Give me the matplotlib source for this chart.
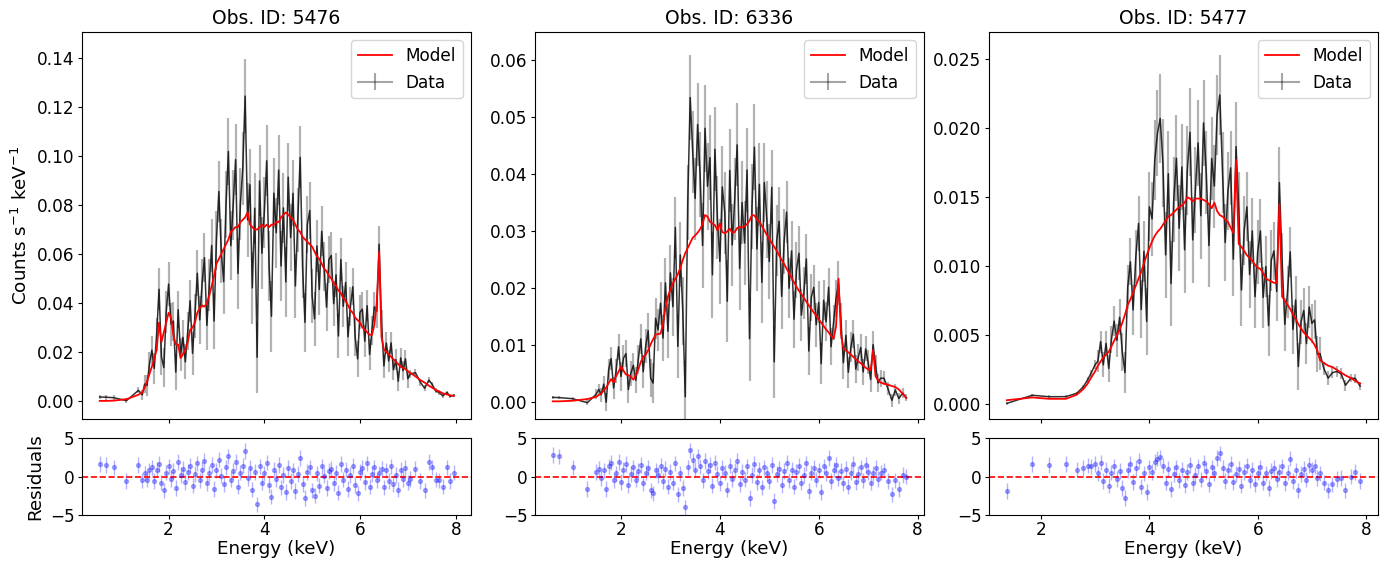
import numpy as np
import matplotlib
matplotlib.use("Agg")
import matplotlib.pyplot as plt

# ---------------- shared energy grid of the densely binned part (keV) ----------------
grid_keV = [
    1.50, 1.55, 1.60, 1.65, 1.70, 1.75, 1.80, 1.85, 1.90, 1.95,
    2.00, 2.05, 2.10, 2.15, 2.20, 2.25, 2.30, 2.35, 2.40, 2.45,
    2.50, 2.55, 2.60, 2.65, 2.70, 2.75, 2.80, 2.85, 2.90, 2.95,
    3.00, 3.05, 3.10, 3.15, 3.20, 3.25, 3.30, 3.35, 3.40, 3.45,
    3.50, 3.55, 3.60, 3.65, 3.70, 3.75, 3.80, 3.85, 3.90, 3.95,
    4.00, 4.05, 4.10, 4.15, 4.20, 4.25, 4.30, 4.35, 4.40, 4.45,
    4.50, 4.55, 4.60, 4.65, 4.70, 4.75, 4.80, 4.85, 4.90, 4.95,
    5.00, 5.05, 5.10, 5.15, 5.20, 5.25, 5.30, 5.35, 5.40, 5.45,
    5.50, 5.55, 5.60, 5.65, 5.70, 5.75, 5.80, 5.85, 5.90, 5.95,
    6.00, 6.05, 6.10, 6.15, 6.20, 6.25, 6.30, 6.35, 6.40, 6.45,
    6.50, 6.55, 6.60, 6.65, 6.70, 6.75, 6.80, 6.85, 6.90, 6.95,
    7.00, 7.05, 7.10, 7.15, 7.20, 7.25,
]

titles = ["Obs. ID: 5476", "Obs. ID: 6336", "Obs. ID: 5477"]

# ---------------- Obs. ID 5476 ----------------
e1_low = [0.56, 0.70, 0.85, 1.12, 1.37, 1.45]
m1_low = [0.0000, 0.0000, 0.0001, 0.0007, 0.0025, 0.0035]
s1_low = [0.0010, 0.0010, 0.0010, 0.0010, 0.0012, 0.0020]
r1_low = [1.6, 1.5, 1.2, -0.6, 1.5, -0.5]

m1_mid = [
    0.0055, 0.008, 0.011, 0.014, 0.017, 0.021, 0.032, 0.024, 0.028, 0.032,
    0.036, 0.034, 0.027, 0.023, 0.023, 0.0175, 0.019, 0.021, 0.024, 0.029,
    0.030, 0.032, 0.036, 0.038, 0.039, 0.0385, 0.040, 0.043, 0.047, 0.051,
    0.056, 0.058, 0.060, 0.062, 0.064, 0.066, 0.069, 0.070, 0.071, 0.071,
    0.073, 0.074, 0.075, 0.077, 0.072, 0.071, 0.070, 0.070, 0.071, 0.072,
    0.071, 0.072, 0.071, 0.072, 0.072, 0.073, 0.073, 0.075, 0.076, 0.077,
    0.076, 0.075, 0.074, 0.072, 0.070, 0.069, 0.067, 0.066, 0.065, 0.064,
    0.063, 0.061, 0.059, 0.058, 0.056, 0.054, 0.053, 0.051, 0.050, 0.048,
    0.047, 0.045, 0.044, 0.042, 0.041, 0.039, 0.037, 0.036, 0.034, 0.033,
    0.032, 0.030, 0.029, 0.028, 0.027, 0.027, 0.031, 0.040, 0.061, 0.026,
    0.021, 0.020, 0.019, 0.018, 0.017, 0.016, 0.015, 0.014, 0.0135, 0.013,
    0.012,
]
s1_mid = [
    0.0035, 0.0042, 0.005, 0.0056, 0.0062, 0.0068, 0.0085, 0.0075, 0.008, 0.0085,
    0.009, 0.0088, 0.008, 0.0075, 0.0075, 0.0068, 0.007, 0.0072, 0.0078, 0.0085,
    0.0088, 0.009, 0.0095, 0.0098, 0.010, 0.010, 0.0102, 0.0106, 0.011, 0.0115,
    0.012, 0.0125, 0.013, 0.0133, 0.0136, 0.0138, 0.014, 0.0142, 0.0145, 0.0146,
    0.0148, 0.015, 0.015, 0.0152, 0.0148, 0.0146, 0.0145, 0.0145, 0.0145, 0.0146,
    0.0145, 0.0145, 0.0144, 0.0144, 0.0143, 0.0143, 0.0142, 0.0142, 0.0142, 0.0142,
    0.014, 0.0138, 0.0135, 0.0132, 0.013, 0.0127, 0.0124, 0.0121, 0.0118, 0.0115,
    0.0112, 0.011, 0.0107, 0.0104, 0.0102, 0.010, 0.0098, 0.0096, 0.0094, 0.0092,
    0.009, 0.0088, 0.0086, 0.0084, 0.0082, 0.008, 0.0078, 0.0076, 0.0074, 0.0072,
    0.007, 0.0068, 0.0066, 0.0064, 0.0062, 0.006, 0.0062, 0.0068, 0.0075, 0.0055,
    0.0048, 0.0046, 0.0045, 0.0044, 0.0043, 0.0042, 0.0041, 0.004, 0.0039, 0.0038,
    0.0037,
]
r1_mid = [
    0.4, -0.4, 0.8, 1.2, -0.6, 0.9, 1.6, -0.8, -1.8, 0.5,
    1.3, -0.3, 0.7, -1.5, 1.9, 0.2, 1.0, -0.7, 0.6, 1.4,
    -1.2, 0.3, 1.7, -0.5, 0.9, 2.0, -0.9, 0.4, 1.5, -1.6,
    0.8, 2.2, 0.1, -1.0, 1.2, 2.6, -0.4, 0.7, 1.9, -1.3,
    0.5, 1.4, 3.3, -0.2, 1.1, -1.7, 0.6, -3.6, 1.3, -0.8,
    0.4, 1.8, -1.1, -2.6, 0.9, -0.3, 1.5, -1.4, 0.2, -2.0,
    1.1, -0.6, 0.8, -1.9, 0.3, 2.4, -1.0, -2.8, 0.6, 1.2,
    -1.8, -2.5, 0.4, -1.2, 1.3, 0.1, -1.5, 0.7, 1.0, -0.9,
    0.5, -2.1, 1.6, -0.4, 0.9, -1.6, 0.2, 1.4, -1.1, -2.2,
    0.6, 1.1, -0.7, 1.7, -1.3, 0.3, 1.2, -0.5, 0.4, 1.0,
    -1.4, 0.8, -0.6, 1.3, -1.0, 0.2, -1.7, 0.9, -0.3, 1.1,
    -0.8,
]
e1_high = [7.05, 7.16, 7.26, 7.35, 7.44, 7.51, 7.58, 7.66, 7.73, 7.82, 7.88, 7.96]
m1_high = [0.0115, 0.010, 0.0085, 0.0075, 0.0062, 0.0054, 0.0045, 0.0038, 0.0031, 0.0026, 0.0023, 0.0020]
s1_high = [0.0016, 0.0015, 0.0014, 0.0013, 0.0012, 0.0011, 0.0010, 0.0009, 0.0008, 0.0007, 0.0007, 0.0006]
r1_high = [-0.3, 1.0, -0.6, -1.8, 1.9, 1.2, -0.4, -0.5, -1.3, 1.2, -0.6, 0.5]

# ---------------- Obs. ID 6336 ----------------
e2_low = [0.62, 0.75, 1.02, 1.32]
m2_low = [0.0001, 0.0001, 0.0002, 0.0005]
s2_low = [0.00025, 0.00025, 0.0003, 0.0004]
r2_low = [2.8, 2.6, 1.2, -1.6]

m2_mid = [
    0.0009, 0.0012, 0.0015, 0.002, 0.0025, 0.0033, 0.004, 0.0034, 0.0045, 0.0053,
    0.0062, 0.0055, 0.0048, 0.0047, 0.0044, 0.0039, 0.0047, 0.0057, 0.007, 0.0079,
    0.0083, 0.0091, 0.0101, 0.011, 0.0118, 0.0119, 0.012, 0.0136, 0.0165, 0.0185,
    0.0197, 0.0208, 0.0216, 0.0224, 0.0235, 0.0249, 0.0261, 0.027, 0.0279, 0.0288,
    0.0292, 0.0297, 0.0303, 0.0312, 0.0328, 0.0325, 0.0316, 0.0313, 0.031, 0.0301,
    0.0313, 0.0298, 0.0296, 0.0299, 0.0304, 0.0297, 0.0298, 0.0305, 0.0307, 0.0306,
    0.0308, 0.0312, 0.0318, 0.0328, 0.0327, 0.032, 0.0316, 0.0309, 0.0301, 0.0293,
    0.0286, 0.0279, 0.0272, 0.0265, 0.0257, 0.0249, 0.0242, 0.0234, 0.0226, 0.0218,
    0.021, 0.0202, 0.0195, 0.0189, 0.0182, 0.0176, 0.0169, 0.0163, 0.0157, 0.0151,
    0.0145, 0.0139, 0.0133, 0.0127, 0.0122, 0.0116, 0.0111, 0.0132, 0.0216, 0.012,
    0.0094, 0.009, 0.0087, 0.0083, 0.0079, 0.0075, 0.0071, 0.0068, 0.0064, 0.006,
    0.0057, 0.0056, 0.0091, 0.0045, 0.0038, 0.0034,
]
s2_mid = [
    0.0008, 0.001, 0.0012, 0.0014, 0.0016, 0.0018, 0.002, 0.0019, 0.0021, 0.0023,
    0.0025, 0.0024, 0.0023, 0.0023, 0.0022, 0.0021, 0.0023, 0.0025, 0.0027, 0.0029,
    0.003, 0.0031, 0.0033, 0.0035, 0.0036, 0.0037, 0.0038, 0.004, 0.0044, 0.0047,
    0.0049, 0.0051, 0.0053, 0.0055, 0.0057, 0.006, 0.0063, 0.0066, 0.0075, 0.0072,
    0.0072, 0.0073, 0.0074, 0.0075, 0.0076, 0.0076, 0.0075, 0.0075, 0.0074, 0.0073,
    0.0074, 0.0072, 0.0072, 0.0072, 0.0073, 0.0072, 0.0072, 0.0073, 0.0073, 0.0073,
    0.0073, 0.0073, 0.0074, 0.0075, 0.0075, 0.0074, 0.0073, 0.0071, 0.007, 0.0068,
    0.0066, 0.0065, 0.0063, 0.0062, 0.006, 0.0058, 0.0057, 0.0055, 0.0053, 0.0052,
    0.005, 0.0049, 0.0047, 0.0046, 0.0045, 0.0044, 0.0042, 0.0041, 0.004, 0.0039,
    0.0037, 0.0036, 0.0035, 0.0034, 0.0033, 0.0032, 0.0031, 0.0033, 0.0038, 0.0031,
    0.0028, 0.0027, 0.0027, 0.0026, 0.0025, 0.0025, 0.0024, 0.0023, 0.0023, 0.0022,
    0.0021, 0.0021, 0.0024, 0.0018, 0.0016, 0.0015,
]
r2_mid = [
    0.6, 1.0, -0.2, 0.8, -1.6, 1.3, 1.8, -0.5, 0.4, 1.9,
    -0.7, 0.9, 1.6, -1.1, 0.3, 1.2, -0.4, 0.7, 1.5, -0.9,
    0.5, 1.1, -1.8, -2.2, 0.8, 0.2, 1.4, -0.6, 1.0, -1.3,
    0.6, -0.8, 1.7, -2.3, 0.4, -1.5, -4.0, 1.2, 3.4, 2.1,
    0.9, 2.6, 1.3, -0.5, 2.0, 0.7, 1.5, -1.2, 1.8, 0.3,
    -0.9, 1.1, 0.5, -1.7, 1.4, -0.3, 0.8, 2.0, -1.0, 0.6,
    -0.4, 1.3, -2.8, 0.2, 1.6, -0.7, 0.9, -1.4, 1.2, 0.4,
    -0.6, 1.5, -3.2, 0.3, 1.0, -1.1, 0.7, 1.8, -0.5, 0.9,
    -1.3, 0.6, 1.4, -0.8, 0.2, 1.7, -1.9, 0.5, 1.1, -0.4,
    0.8, -2.0, 1.3, 0.4, 2.4, -0.6, 0.9, 1.5, -0.2, 0.7,
    -0.9, 1.0, -1.3, 0.5, 1.6, -0.7, 0.3, 1.2, -0.5, 1.5,
    0.6, -0.8, 0.4, 1.1, -0.3, 0.5,
]
e2_high = [7.32, 7.40, 7.48, 7.55, 7.62, 7.70, 7.77]
m2_high = [0.0032, 0.0030, 0.0028, 0.0026, 0.0022, 0.0014, 0.0007]
s2_high = [0.0012, 0.0011, 0.0011, 0.0010, 0.0010, 0.0008, 0.0006]
r2_high = [0.8, -0.6, -2.3, -0.5, -1.6, 0.2, 0.0]

# ---------------- Obs. ID 5477 ----------------
e3_low = [1.37, 1.84, 2.15, 2.46, 2.66, 2.78, 2.86, 2.92, 3.00]
m3_low = [0.0003, 0.0005, 0.0004, 0.0004, 0.0007, 0.0011, 0.0015, 0.0019, 0.0024]
s3_low = [0.00012, 0.0001, 0.0001, 0.0001, 0.00012, 0.00015, 0.0002, 0.00025, 0.0003]
r3_low = [-1.9, 1.6, 1.5, 1.6, 0.9, 1.1, 1.4, 1.3, 1.6]

m3_mid = [
    0.0028, 0.0031, 0.0034, 0.0036, 0.0038, 0.0042, 0.0046, 0.0050, 0.0054, 0.0059,
    0.0065, 0.0072, 0.0076, 0.0081, 0.0086, 0.0091, 0.0096, 0.0102, 0.0108, 0.0113,
    0.0118, 0.0122, 0.0125, 0.0127, 0.0130, 0.0133, 0.0136, 0.0137, 0.0139, 0.0141,
    0.0143, 0.0144, 0.0146, 0.0150, 0.0149, 0.0147, 0.0149, 0.0149, 0.0149, 0.0148,
    0.0147, 0.0145, 0.0142, 0.0146, 0.0140, 0.0137, 0.0136, 0.0134, 0.0132, 0.0128,
    0.0124, 0.0177, 0.0116, 0.0114, 0.0111, 0.0108, 0.0106, 0.0104, 0.0101, 0.0099,
    0.0098, 0.0095, 0.0091, 0.0090, 0.0089, 0.0088, 0.0088, 0.0145, 0.0078, 0.0075,
    0.0072, 0.0069, 0.0065, 0.0062, 0.0058, 0.0055, 0.0052, 0.0050, 0.0048, 0.0046,
    0.0043, 0.0039, 0.0032,
]
s3_mid = [
    0.0008, 0.0008, 0.0009, 0.0009, 0.0010, 0.0010, 0.0011, 0.0012, 0.0013, 0.0014,
    0.0015, 0.0016, 0.0017, 0.0018, 0.0019, 0.0020, 0.0021, 0.0022, 0.0024, 0.0025,
    0.0027, 0.0029, 0.0031, 0.0032, 0.0032, 0.0031, 0.0031, 0.0031, 0.0031, 0.0031,
    0.0031, 0.0031, 0.0031, 0.0032, 0.0032, 0.0031, 0.0031, 0.0031, 0.0031, 0.0031,
    0.0030, 0.0030, 0.0030, 0.0030, 0.0029, 0.0029, 0.0029, 0.0028, 0.0028, 0.0027,
    0.0027, 0.0032, 0.0026, 0.0026, 0.0025, 0.0025, 0.0024, 0.0024, 0.0023, 0.0023,
    0.0023, 0.0022, 0.0022, 0.0022, 0.0022, 0.0021, 0.0021, 0.0026, 0.0020, 0.0019,
    0.0019, 0.0018, 0.0018, 0.0017, 0.0017, 0.0016, 0.0016, 0.0015, 0.0015, 0.0014,
    0.0014, 0.0013, 0.0012,
]
r3_mid = [
    0.4, 1.8, -0.6, 0.9, -1.2, 0.5, 1.3, -0.3, 0.7, -1.5,
    -2.8, 0.8, 1.6, -0.7, 1.1, 2.0, -1.3, 0.4, -2.0, 1.2,
    0.6, 1.9, 2.3, 2.5, 1.4, -0.8, 1.0, -1.6, 0.3, 1.2,
    -0.5, 0.9, -1.1, 0.6, 1.5, -0.9, 0.2, 1.3, -0.4, 1.8,
    0.7, -1.0, 1.2, 0.4, 2.4, 3.0, 1.1, -0.6, 0.8, 1.6,
    -0.7, 0.3, 1.0, -1.2, 0.6, 1.4, -0.5, 0.9, -1.0, 0.5,
    1.2, -0.8, 0.4, -1.5, 0.7, 1.1, -0.3, 0.6, 1.3, -0.9,
    0.5, 2.3, -0.6, 0.8, -1.8, 0.3, 1.0, -0.4, 1.5, 0.9,
    1.3, -0.2, 0.4,
]
e3_high = [7.22, 7.30, 7.38, 7.46, 7.54, 7.62, 7.72, 7.80, 7.89]
m3_high = [0.0030, 0.0028, 0.0027, 0.0025, 0.0023, 0.0021, 0.0019, 0.0017, 0.0015]
s3_high = [0.0005, 0.0005, 0.0004, 0.0004, 0.0004, 0.0004, 0.0003, 0.0003, 0.0003]
r3_high = [-0.8, -1.8, -1.0, -0.3, -0.2, -1.8, 0.0, 0.6, -0.6]

# which part of the shared grid each observation uses
grid_slices = [(0, 111), (0, 116), (31, 114)]


def assemble(e_low, m_low, s_low, r_low, sl, m_mid, s_mid, r_mid,
             e_high, m_high, s_high, r_high):
    e = np.array(e_low + grid_keV[sl[0]:sl[1]] + e_high)
    m = np.array(m_low + m_mid + m_high)
    s = np.array(s_low + s_mid + s_high)
    r = np.array(r_low + r_mid + r_high)
    return e, m, s, r


panels = [
    assemble(e1_low, m1_low, s1_low, r1_low, grid_slices[0], m1_mid, s1_mid, r1_mid,
             e1_high, m1_high, s1_high, r1_high),
    assemble(e2_low, m2_low, s2_low, r2_low, grid_slices[1], m2_mid, s2_mid, r2_mid,
             e2_high, m2_high, s2_high, r2_high),
    assemble(e3_low, m3_low, s3_low, r3_low, grid_slices[2], m3_mid, s3_mid, r3_mid,
             e3_high, m3_high, s3_high, r3_high),
]

xlims = [(0.19, 8.32), (0.26, 8.13), (1.04, 8.22)]
ylims = [(-0.0074, 0.1507), (-0.0030, 0.0649), (-0.00106, 0.02696)]

W, H = 1387, 562
fig = plt.figure(figsize=(W / 100, H / 100), dpi=100)
lefts = [82, 535, 989]
width = 389
FS_TICK = 12.2
FS_LAB = 13.2

for i, (e, m, s, r) in enumerate(panels):
    data = m + r * s
    l = lefts[i] / W
    axb = fig.add_axes([l, 1 - 515 / H, width / W, 77 / H])
    axt = fig.add_axes([l, 1 - 419 / H, width / W, 387 / H], sharex=axb)

    # data: light error bars plus the darker connecting line
    axt.errorbar(e, data, yerr=s, fmt="none", ecolor="black", elinewidth=1.6,
                 alpha=0.3, zorder=2)
    axt.plot(e, data, color="black", lw=1.1, alpha=0.8, zorder=2.5)
    mline, = axt.plot(e, m, color="red", lw=1.3, zorder=3)
    # legend proxy for the data (grey line with an error bar)
    proxy = axt.errorbar([np.nan], [np.nan], yerr=[np.nan], color="black",
                         lw=1.5, alpha=0.35)
    axt.legend(handles=[mline, proxy], labels=["Model", "Data"], loc="upper right",
               fontsize=FS_TICK)
    axt.set_title(titles[i], fontsize=FS_LAB + 0.3)
    axt.set_ylim(*ylims[i])
    axt.tick_params(labelbottom=False, labelsize=FS_TICK, length=2.6, pad=2.8)

    axb.errorbar(e, r, yerr=np.ones_like(r), fmt="o", color="blue", ms=2.8,
                 elinewidth=1.0, alpha=0.3)
    axb.axhline(0, color="red", ls="--", lw=1.2)
    axb.set_ylim(-5, 5)
    axb.set_yticks([-5, 0, 5])
    axb.set_xlim(*xlims[i])
    axb.set_xticks([2, 4, 6, 8])
    axb.tick_params(axis="y", labelsize=FS_TICK, length=2.6, pad=2.8)
    axb.tick_params(axis="x", labelsize=FS_TICK, length=2.6, pad=1.5)
    axb.set_xlabel("Energy (keV)", fontsize=FS_LAB)
    axb.xaxis.set_label_coords(0.5, -0.331)

    if i == 0:
        axt.set_ylabel("Counts s$^{-1}$ keV$^{-1}$", fontsize=FS_LAB)
        axb.set_ylabel("Residuals", fontsize=FS_LAB)

fig.savefig("out.png", dpi=100)
